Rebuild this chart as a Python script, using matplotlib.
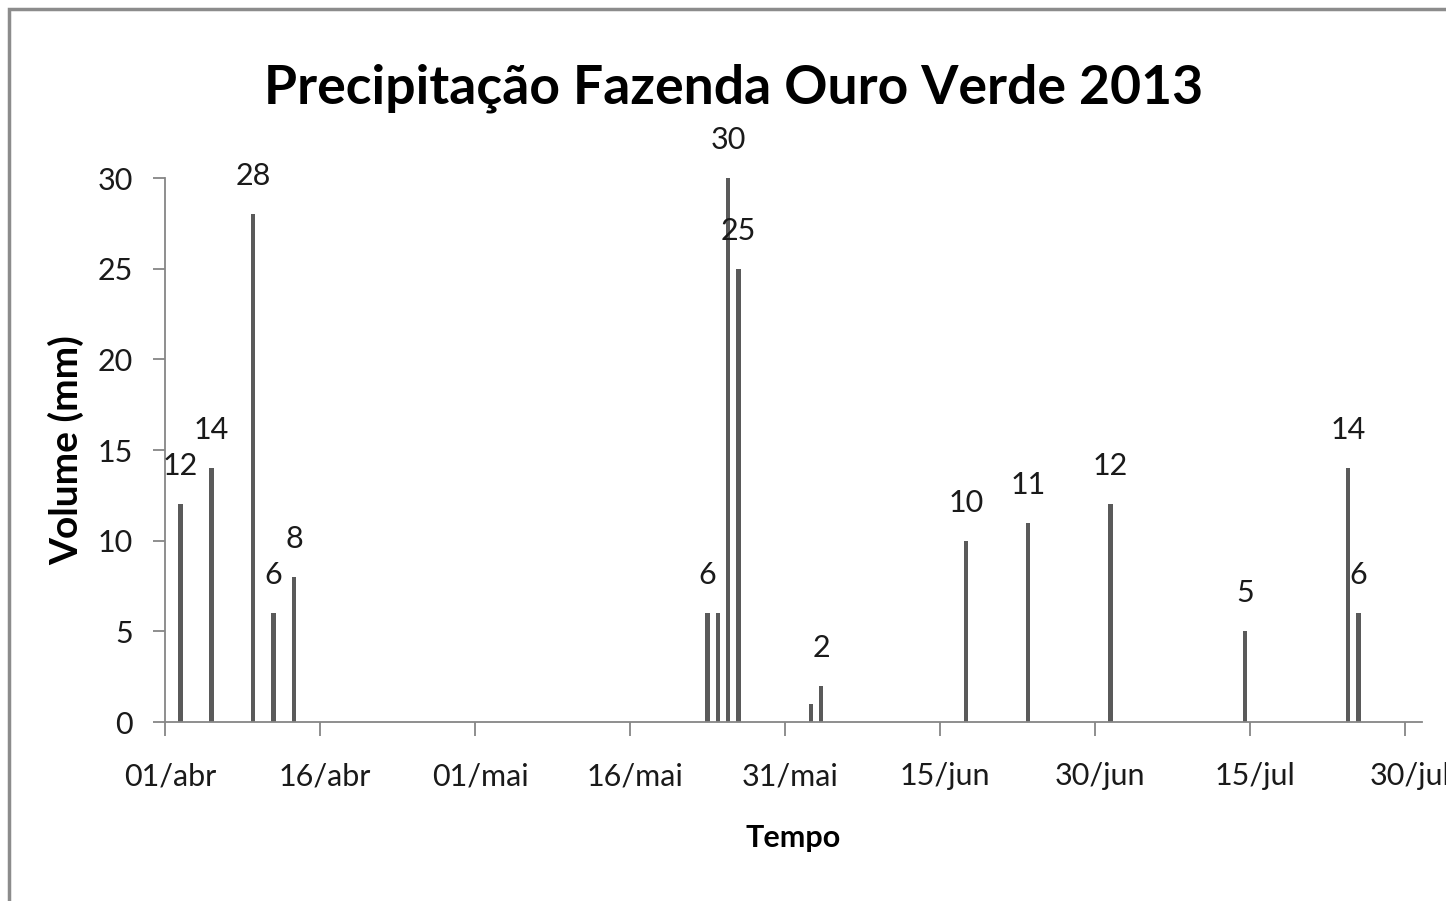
import datetime as dt
import matplotlib
matplotlib.use("Agg")
import matplotlib.pyplot as plt
import matplotlib.dates as mdates
from matplotlib.patches import Rectangle

# precipitação diária (mm)
dates = ['2013-04-02', '2013-04-05', '2013-04-09', '2013-04-11', '2013-04-13',
         '2013-05-23', '2013-05-24', '2013-05-25', '2013-05-26',
         '2013-06-02', '2013-06-03', '2013-06-17', '2013-06-23', '2013-07-01',
         '2013-07-14', '2013-07-24', '2013-07-25']
volume = [12, 14, 28, 6, 8,
          6, 6, 30, 25,
          1, 2, 10, 11, 12,
          5, 14, 6]
labels = ['12', '14', '28', '6', '8',
          '6', '', '30', '25',
          '', '2', '10', '11', '12',
          '5', '14', '6']
tick_labels = ['01/abr', '16/abr', '01/mai', '16/mai', '31/mai',
               '15/jun', '30/jun', '15/jul', '30/jul']

FONT = 'Lato'
GREY = '#868686'

x = [mdates.date2num(dt.datetime.strptime(d, '%Y-%m-%d')) for d in dates]
start = mdates.date2num(dt.datetime(2013, 4, 1))
tick_pos = [start + 15 * i for i in range(len(tick_labels))]

fig = plt.figure(figsize=(14.46, 9.01), dpi=100)
ax = fig.add_axes([165 / 1446, 1 - 722 / 901, (1422 - 165) / 1446, (722 - 178) / 901])

ax.bar(x, volume, width=0.42, color='#5a5a5a')
for xi, v, lab in zip(x, volume, labels):
    if lab:
        ax.annotate(lab, (xi, v), xytext=(0, 24), textcoords='offset pixels',
                    ha='center', va='bottom', fontsize=22, family=FONT,
                    color='#1a1a1a')

ax.set_xlim(start - 0.5, start + 121.15)
ax.set_ylim(0, 30)
ax.set_yticks(range(0, 31, 5))

# labels centred on the date, tick marks on the day boundary
ax.set_xticks(tick_pos)
ax.set_xticklabels(tick_labels)
ax.set_xticks([p - 0.5 for p in tick_pos], minor=True)
ax.tick_params(axis='x', which='major', length=0, pad=29)
ax.tick_params(axis='x', which='minor', length=10, width=1.3, color=GREY)
ax.tick_params(axis='y', length=9, width=1.3, color=GREY, pad=14)
for lab in ax.get_xticklabels() + ax.get_yticklabels():
    lab.set_family(FONT)
    lab.set_fontsize(22)
    lab.set_color('#1a1a1a')

for s in ['top', 'right']:
    ax.spines[s].set_visible(False)
for s in ['left', 'bottom']:
    ax.spines[s].set_color(GREY)
    ax.spines[s].set_linewidth(1.3)

ax.set_xlabel('Tempo', family=FONT, fontweight='bold', fontsize=22, labelpad=24)
ax.set_ylabel('Volume (mm)', family=FONT, fontweight='bold', fontsize=28, labelpad=10)

fig.suptitle('Precipitação Fazenda Ouro Verde 2013', x=734 / 1446, y=1 - 88 / 901,
             va='center', fontsize=38.5, fontweight='bold', family=FONT)

# chart area border (cropped on the right and bottom)
fig.patches.append(Rectangle((9 / 1446, -0.1), 1.2, 1 - 9 / 901 + 0.1,
                             transform=fig.transFigure, fill=False,
                             edgecolor='#8c8c8c', linewidth=2.5))

fig.savefig('out.png', dpi=100)
